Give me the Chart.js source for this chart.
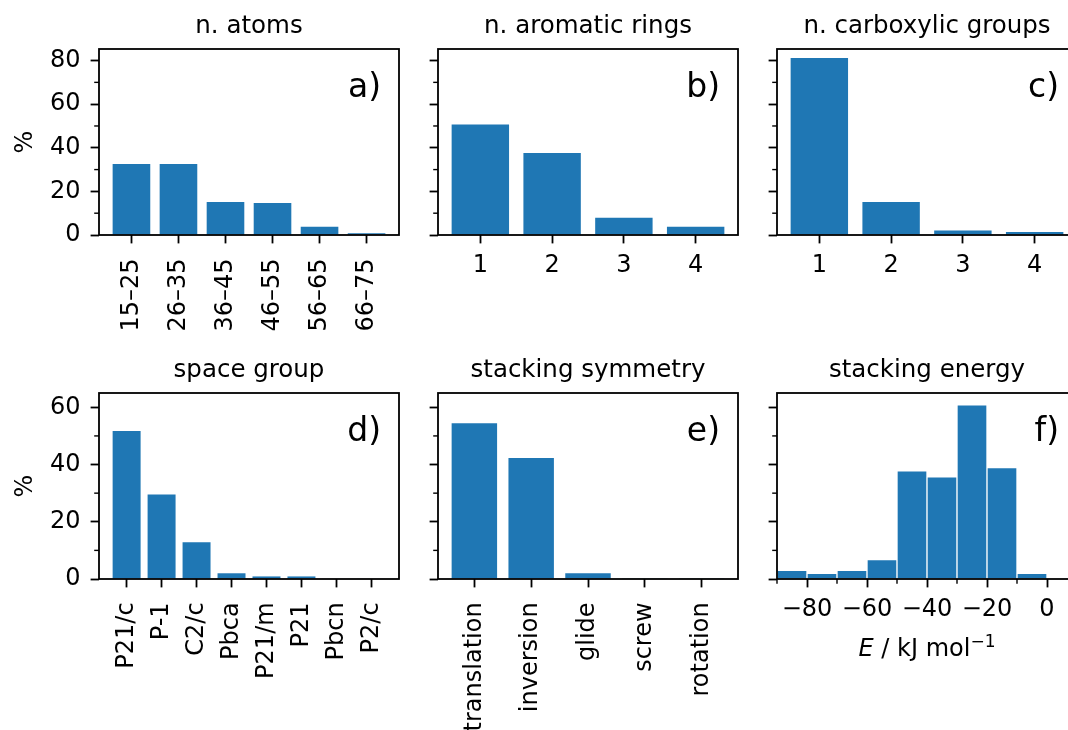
<!DOCTYPE html>
<html>
<head>
<meta charset="utf-8">
<script src="https://cdn.jsdelivr.net/npm/chart.js@4.4.1/dist/chart.umd.min.js"></script>
<style>
  html, body { margin: 0; padding: 0; overflow: hidden; background: #fff; width: 1068px; height: 730px; }
  canvas { position: absolute; }
</style>
</head>
<body>
<canvas id="pa"></canvas>
<canvas id="pb"></canvas>
<canvas id="pc"></canvas>
<canvas id="pd"></canvas>
<canvas id="pe"></canvas>
<canvas id="pf"></canvas>
<script>
// ---- data (percent of structures) ----
const atomBins = ["15–25", "26–35", "36–45", "46–55", "56–65", "66–75"];
const atomPct = [32.6, 32.6, 15.1, 14.7, 3.8, 0.8];

const ringCounts = ["1", "2", "3", "4"];
const ringPct = [50.7, 37.6, 7.9, 3.8];

const carboxCounts = ["1", "2", "3", "4"];
const carboxPct = [81.2, 15.1, 2.1, 1.4];

const spaceGroups = ["P21/c", "P-1", "C2/c", "Pbca", "P21/m", "P21", "Pbcn", "P2/c"];
const spaceGroupPct = [51.7, 29.5, 12.8, 2.0, 0.9, 0.9, 0.2, 0.2];

const symmetryTypes = ["translation", "inversion", "glide", "screw", "rotation"];
const symmetryPct = [54.4, 42.3, 2.0, 0.1, 0.1];

// stacking energy histogram, 10 kJ/mol bins
const energyBinCentres = [-85, -75, -65, -55, -45, -35, -25, -15, -5];
const energyPct = [3.0, 2.0, 3.0, 6.8, 37.8, 35.7, 60.9, 38.9, 2.0];
const energyTicks = [-80, -60, -40, -20, 0];
const energyMinorTicks = [-90, -70, -50, -30, -10, 10];

const pctTicksTop = [0, 20, 40, 60, 80];
const pctMinorTop = [10, 30, 50, 70];
const pctTicksBottom = [0, 20, 40, 60];
const pctMinorBottom = [10, 30, 50];

// ---- look ----
const BLUE = "#1f77b4";
const FONT = "'DejaVu Sans', sans-serif";
Chart.defaults.font.family = FONT;
Chart.defaults.font.size = 24;
Chart.defaults.color = "#000";

// axes boxes on the page: [left, right] per column, [top, bottom] per row
const COLS = [[99, 399], [438, 738], [777, 1077]];
const ROWS = [[49, 235], [393, 579]];
// canvas rectangles holding each panel
const CANVAS_COLS = [[0, 418], [418, 757], [757, 1100]];
const CANVAS_ROWS = [[0, 350], [350, 730]];

const minus = v => (v < 0 ? "\u2212" + Math.abs(v) : String(v));

// frame, minor ticks, title, panel letter, optional energy axis label
const panelDecor = {
  id: "panelDecor",
  afterDraw(chart, args, opts) {
    const { ctx, chartArea: a } = chart;
    const xs = chart.scales.x, ys = chart.scales.y;
    ctx.save();
    ctx.strokeStyle = "#000";
    ctx.lineWidth = 1.4;
    (opts.minorY || []).forEach(v => {
      const py = ys.getPixelForValue(v);
      ctx.beginPath(); ctx.moveTo(a.left - 4.8, py); ctx.lineTo(a.left, py); ctx.stroke();
    });
    (opts.minorX || []).forEach(v => {
      const px = xs.getPixelForValue(v);
      ctx.beginPath(); ctx.moveTo(px, a.bottom); ctx.lineTo(px, a.bottom + 4.8); ctx.stroke();
    });

    ctx.lineWidth = 1.8;
    ctx.strokeRect(a.left, a.top, a.right - a.left, a.bottom - a.top);

    ctx.fillStyle = "#000";
    ctx.textBaseline = "alphabetic";
    ctx.textAlign = "center";
    ctx.font = "24.5px " + FONT;
    ctx.fillText(opts.title, (a.left + a.right) / 2, a.top - 16);

    ctx.textAlign = "right";
    ctx.font = "33px " + FONT;
    ctx.fillText(opts.letter, a.right - 18, a.top + 48);

    if (opts.energyLabel) {
      // E / kJ mol^-1 with italic E and raised exponent
      ctx.textAlign = "left";
      const y = a.bottom + 77;
      ctx.font = "italic 24px " + FONT;
      const wE = ctx.measureText("E").width;
      ctx.font = "24px " + FONT;
      const wMid = ctx.measureText(" / kJ mol").width;
      ctx.font = "17px " + FONT;
      const wSup = ctx.measureText("\u22121").width;
      let x = (a.left + a.right) / 2 - (wE + wMid + wSup) / 2;
      ctx.font = "italic 24px " + FONT;
      ctx.fillText("E", x, y); x += wE;
      ctx.font = "24px " + FONT;
      ctx.fillText(" / kJ mol", x, y); x += wMid;
      ctx.font = "17px " + FONT;
      ctx.fillText("\u22121", x, y - 9);
    }
    ctx.restore();
  }
};

// matplotlib-like limits around categorical bars of width 0.8
function catLimits(n) {
  const pad = 0.05 * (n - 1 + 0.8);
  return [-0.4 - pad, n - 1 + 0.4 + pad];
}

function drawPanel(id, col, row, opt) {
  const [cx0, cx1] = CANVAS_COLS[col];
  const [cy0, cy1] = CANVAS_ROWS[row];
  const [l, r] = COLS[col];
  const [t, b] = ROWS[row];
  const cv = document.getElementById(id);
  cv.width = cx1 - cx0;
  cv.height = cy1 - cy0;
  cv.style.left = cx0 + "px";
  cv.style.top = cy0 + "px";

  new Chart(cv, {
    type: "bar",
    data: {
      datasets: [{
        data: opt.points,
        backgroundColor: BLUE,
        borderColor: "#fff",
        borderWidth: opt.edge,
        barPercentage: opt.barPct,
        categoryPercentage: 1
      }]
    },
    options: {
      responsive: false,
      animation: false,
      devicePixelRatio: 1,
      events: [],
      layout: { autoPadding: false, padding: { left: 0, top: t - cy0, right: cx1 - r, bottom: 0 } },
      plugins: {
        legend: { display: false },
        tooltip: { enabled: false },
        panelDecor: {
          title: opt.title,
          letter: opt.letter,
          minorY: opt.minorY,
          minorX: opt.minorX,
          energyLabel: opt.energyLabel
        }
      },
      scales: {
        x: {
          type: "linear",
          offset: false,
          min: opt.xmin,
          max: opt.xmax,
          grid: { offset: false, drawOnChartArea: false, drawTicks: true, tickLength: 8.4, tickWidth: 1.8, tickColor: "#000" },
          border: { display: false },
          afterBuildTicks: s => { s.ticks = opt.xTicks.map(v => ({ value: v })); },
          afterFit: s => { s.height = cy1 - b; s.paddingLeft = 0; s.paddingRight = 0; },
          ticks: {
            autoSkip: false,
            minRotation: opt.rot,
            maxRotation: opt.rot,
            padding: opt.xPad,
            callback: opt.xFmt
          }
        },
        y: {
          min: 0,
          max: opt.ymax,
          grid: { drawOnChartArea: false, drawTicks: true, tickLength: 8.4, tickWidth: 1.8, tickColor: "#000" },
          border: { display: false },
          afterBuildTicks: s => { s.ticks = opt.yTicks.map(v => ({ value: v })); },
          afterFit: s => { s.width = l - cx0; s.paddingTop = 0; s.paddingBottom = 0; },
          ticks: { display: opt.yLabels, padding: 10 },
          title: { display: opt.yLabels, text: "%", font: { size: 24 }, padding: { top: 11.5, bottom: 0 } }
        }
      }
    },
    plugins: [panelDecor]
  });
}

function catPanel(id, col, row, labels, values, title, letter, rot, yLabels) {
  const [xmin, xmax] = catLimits(labels.length);
  const top = row === 0;
  drawPanel(id, col, row, {
    points: values.map((v, i) => ({ x: i, y: v })),
    xTicks: labels.map((_, i) => i),
    xFmt: v => labels[v],
    xmin, xmax,
    rot,
    xPad: rot ? 15 : 8,
    barPct: 0.8,
    edge: 0,
    ymax: top ? 85.3 : 65,
    yTicks: top ? pctTicksTop : pctTicksBottom,
    minorY: top ? pctMinorTop : pctMinorBottom,
    yLabels,
    title, letter
  });
}

catPanel("pa", 0, 0, atomBins, atomPct, "n. atoms", "a)", 90, true);
catPanel("pb", 1, 0, ringCounts, ringPct, "n. aromatic rings", "b)", 0, false);
catPanel("pc", 2, 0, carboxCounts, carboxPct, "n. carboxylic groups", "c)", 0, false);
catPanel("pd", 0, 1, spaceGroups, spaceGroupPct, "space group", "d)", 90, true);
catPanel("pe", 1, 1, symmetryTypes, symmetryPct, "stacking symmetry", "e)", 90, false);

drawPanel("pf", 2, 1, {
  points: energyBinCentres.map((c, i) => ({ x: c, y: energyPct[i] })),
  xTicks: energyTicks,
  xFmt: minus,
  xmin: -90, xmax: 10,
  rot: 0,
  xPad: 8,
  barPct: 1,
  edge: 1,
  ymax: 65,
  yTicks: pctTicksBottom,
  minorY: pctMinorBottom,
  minorX: energyMinorTicks,
  yLabels: false,
  energyLabel: true,
  title: "stacking energy",
  letter: "f)"
});
</script>
</body>
</html>
